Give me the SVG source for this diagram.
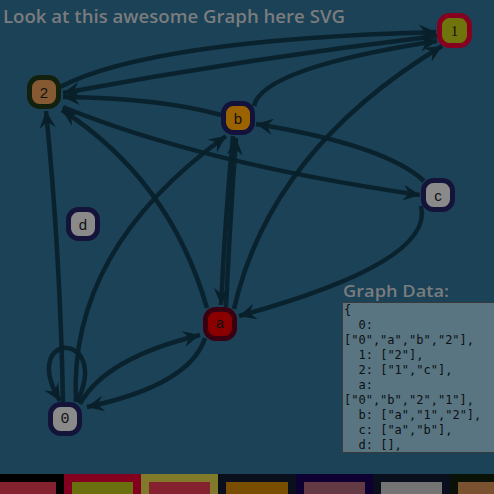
<svg xmlns="http://www.w3.org/2000/svg" width="494" height="494" viewBox="0 0 494 494">
<style>
.edge{fill:none;stroke:#09202a;stroke-width:4.5;stroke-opacity:0.94;marker-end:url(#arr)}
.node rect{stroke-width:5}
.lbl{font-size:15px;fill:#111;text-anchor:middle;dominant-baseline:central}
.title{font-family:"Open Sans","Liberation Sans",sans-serif;font-weight:600;fill:#7a7c7e}
.data{font-family:"DejaVu Sans Mono","Liberation Mono",monospace;font-size:12px;fill:#0c1014}
</style>
<defs>
<marker id="arr" markerUnits="userSpaceOnUse" markerWidth="22" markerHeight="18" viewBox="-18 -9 20 18" refX="0" refY="0" orient="auto">
<path d="M0,0 L-17,-8 L-11,0 L-17,8 Z" fill="#09202a"/>
</marker>
</defs>
<rect width="494" height="494" fill="#1b4257"/>
<text class="title" x="3" y="23" font-size="18" textLength="342" lengthAdjust="spacingAndGlyphs">Look at this awesome Graph here SVG</text>
<g id="edges">
<path class="edge" d="M77,402 C112,330 18,330 60,401"/>
<path class="edge" d="M80,404 Q105,358 200,335"/>
<path class="edge" d="M76,402 Q68,250 226,136"/>
<path class="edge" d="M63,402 Q60,250 46,111"/>
<path class="edge" d="M437,36 Q250,58 63,93"/>
<path class="edge" d="M60,87 Q150,40 436,32"/>
<path class="edge" d="M63,107 Q200,163 420,195"/>
<path class="edge" d="M205,338 Q190,385 87,407"/>
<path class="edge" d="M226,307 Q230,220 236,138"/>
<path class="edge" d="M207,308 Q170,180 62,110"/>
<path class="edge" d="M234,309 Q270,150 442,46"/>
<path class="edge" d="M233,136 Q225,220 221,305"/>
<path class="edge" d="M254,106 Q262,68 437,41"/>
<path class="edge" d="M221,115 Q160,98 63,97"/>
<path class="edge" d="M421,206 Q435,262 239,316"/>
<path class="edge" d="M424,181 Q385,145 256,124"/>
</g>
<g id="node-1" class="node"><rect x="439.5" y="15.5" width="30" height="30" rx="10" fill="#6f740c" stroke="#86001f"/><text class="lbl" x="454.5" y="31" font-family="Liberation Serif,serif">1</text></g>
<g id="node-2" class="node"><rect x="29.5" y="77.5" width="29" height="29" rx="10" fill="#855a33" stroke="#14200e"/><text class="lbl" x="44" y="92" font-family="Liberation Sans,sans-serif">2</text></g>
<g id="node-b" class="node"><rect x="223.5" y="103.5" width="29" height="29" rx="10" fill="#9a6300" stroke="#12123a"/><text class="lbl" x="238" y="118" font-family="Liberation Sans,sans-serif">b</text></g>
<g id="node-c" class="node"><rect x="423.5" y="180.5" width="29" height="29" rx="10" fill="#8a8a8a" stroke="#14143a"/><text class="lbl" x="438" y="195" font-family="Liberation Sans,sans-serif">c</text></g>
<g id="node-d" class="node"><rect x="68.5" y="209.5" width="29" height="29" rx="10" fill="#8a8a8a" stroke="#14143a"/><text class="lbl" x="83" y="224" font-family="Liberation Sans,sans-serif">d</text></g>
<g id="node-a" class="node"><rect x="205.5" y="309.5" width="29" height="29" rx="10" fill="#8a0000" stroke="#3a0012"/><text class="lbl" x="220" y="324" font-family="Liberation Mono,monospace">a</text></g>
<g id="node-0" class="node"><rect x="50.5" y="404.5" width="29" height="29" rx="10" fill="#8a8a8a" stroke="#14143a"/><text class="lbl" x="65" y="419" font-family="Liberation Mono,monospace">0</text></g>
<text class="title" x="343" y="297" font-size="17" textLength="106" lengthAdjust="spacingAndGlyphs">Graph Data:</text>
<rect x="342.5" y="302.5" width="160" height="150" fill="#587581" stroke="#3a3a3a"/>
<g class="data">
<text x="344" y="314">{</text>
<text x="358.5" y="329">0:</text>
<text x="344" y="344">["0","a","b","2"],</text>
<text x="358.5" y="359">1: ["2"],</text>
<text x="358.5" y="374">2: ["1","c"],</text>
<text x="358.5" y="389">a:</text>
<text x="344" y="404">["0","b","2","1"],</text>
<text x="358.5" y="419">b: ["a","1","2"],</text>
<text x="358.5" y="434">c: ["a","b"],</text>
<text x="358.5" y="449">d: [],</text>
</g>
<g id="legend">
<rect x="-13" y="474" width="77" height="20" fill="#000"/><rect x="-5" y="482" width="61" height="12" fill="#84222f"/>
<rect x="64" y="474" width="77" height="20" fill="#84001f"/><rect x="72" y="482" width="61" height="12" fill="#6a7010"/>
<rect x="141" y="474" width="77" height="20" fill="#807a2a"/><rect x="149" y="482" width="61" height="12" fill="#84222f"/>
<rect x="218" y="474" width="78" height="20" fill="#0a0f1e"/><rect x="226" y="482" width="62" height="12" fill="#7a4e00"/>
<rect x="296" y="474" width="77" height="20" fill="#0e0030"/><rect x="304" y="482" width="61" height="12" fill="#643a44"/>
<rect x="373" y="474" width="77" height="20" fill="#0a0f1e"/><rect x="381" y="482" width="61" height="12" fill="#747474"/>
<rect x="450" y="474" width="77" height="20" fill="#0a1208"/><rect x="458" y="482" width="61" height="12" fill="#7a5230"/>
</g>
</svg>
